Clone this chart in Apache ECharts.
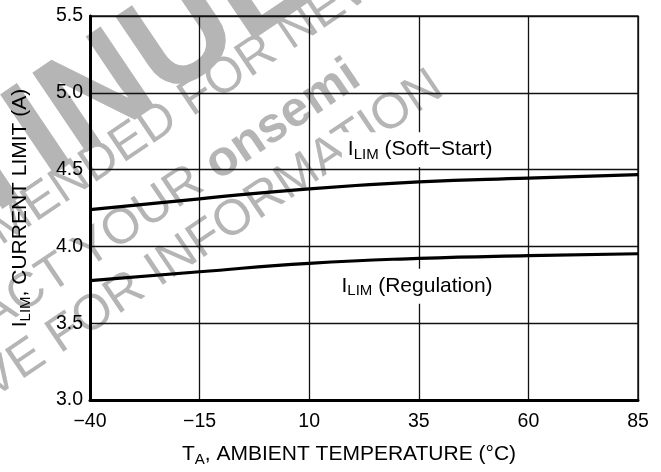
<!DOCTYPE html>
<html>
<head>
<meta charset="utf-8">
<script src="https://cdn.jsdelivr.net/npm/echarts@6/dist/echarts.min.js"></script>
<style>
html,body{margin:0;padding:0;background:#fff;}
#chart{width:661px;height:472px;}
</style>
</head>
<body>
<div id="chart"></div>
<script>
// ---- data ----
const temperatureC = [-40, -15, 10, 35, 60, 85];
const ilimSoftStart = [4.24, 4.31, 4.375, 4.42, 4.445, 4.467];
const ilimRegulation = [3.777, 3.835, 3.89, 3.922, 3.94, 3.952];
const xTicks = [-40, -15, 10, 35, 60, 85];
const yTicks = [3.0, 3.5, 4.0, 4.5, 5.0, 5.5];
const softLabelAt = [35.3, 4.63];
const regLabelAt = [34.6, 3.74];

const FONT = '"Liberation Sans", Arial, Helvetica, sans-serif';
const chart = echarts.init(document.getElementById('chart'));

// watermark helper
const mctx = document.createElement('canvas').getContext('2d');
function measure(str, font) { mctx.font = font; return mctx.measureText(str).width; }
const WM_ROT = 34 * Math.PI / 180;
const WM_COLOR = '#b5b5b5';
function wmText(full, anchorStr, ax, ay, size, weight) {
  const font = (weight || 'normal') + ' ' + size + 'px ' + FONT;
  const idx = full.indexOf(anchorStr);
  const pre = full.slice(0, idx);
  return {
    type: 'text', x: ax, y: ay, rotation: WM_ROT, z: -10, silent: true,
    style: {
      text: full, font: font, fill: WM_COLOR,
      x: -measure(pre, font), y: -0.35 * size,
      align: 'left', verticalAlign: 'middle',
      textAlign: 'left', textVerticalAlign: 'middle'
    }
  };
}
function wmPart(text, ax, ay, size, weight, align) {
  const font = (weight || 'normal') + ' ' + size + 'px ' + FONT;
  return {
    type: 'text', x: ax, y: ay, rotation: WM_ROT, z: -10, silent: true,
    style: {
      text: text, font: font, fill: WM_COLOR, x: 0, y: -0.35 * size,
      align: align, verticalAlign: 'middle', textAlign: align, textVerticalAlign: 'middle'
    }
  };
}

const watermark = [
  wmText('DISCONTINUED', 'INUED', 52, 188, 140, 'bold'),
  wmText('NOT RECOMMENDED FOR NEW DESIGN', 'FOR NEW', 194, 120, 50),
  wmPart('CONTACT YOUR ', 220, 184, 50, 'normal', 'right'),
  wmPart('onsemi', 220, 184, 50, 'bold', 'left'),
  wmText('REPRESENTATIVE FOR INFORMATION', 'FOR INFO', 62, 357, 50)
];

const fmtMinus = v => String(v).replace('-', '\u2212');

const richMain = { fontSize: 21, fontFamily: FONT, color: '#000' };
const richSub = { fontSize: 15, fontFamily: FONT, color: '#000', padding: [10, 0, 0, 0] };

function label(name, pos, sub, rest) {
  return {
    name: name,
    coord: pos,
    symbol: 'rect', symbolSize: 1,
    itemStyle: { color: 'rgba(0,0,0,0)' },
    label: {
      show: true, position: 'inside',
      formatter: '{a|I}{b|' + sub + '}{a| ' + rest + '}',
      backgroundColor: '#fff', padding: [5, 6, 5, 6],
      rich: { a: richMain, b: richSub }
    }
  };
}

const option = {
  animation: false,
  backgroundColor: '#fff',
  graphic: { elements: watermark },
  grid: { left: 90, right: 23, top: 16, bottom: 72, show: true, borderColor: '#222', borderWidth: 1.5, backgroundColor: 'transparent' },
  xAxis: {
    type: 'value', min: xTicks[0], max: xTicks[xTicks.length - 1], interval: 25,
    axisLine: { show: true, onZero: false, lineStyle: { color: '#000', width: 3 } },
    axisTick: { show: false },
    splitLine: { show: true, lineStyle: { color: '#111', width: 1.3 } },
    axisLabel: { color: '#000', fontSize: 19.5, fontFamily: FONT, margin: 12, formatter: fmtMinus },
    name: '{a|T}{b|A}{a|, AMBIENT TEMPERATURE (°C)}',
    nameLocation: 'middle', nameGap: 42,
    nameTextStyle: { rich: { a: richMain, b: richSub }, padding: [0, 30, 0, 0] }
  },
  yAxis: {
    type: 'value', min: yTicks[0], max: yTicks[yTicks.length - 1], interval: 0.5,
    axisLine: { show: true, onZero: false, lineStyle: { color: '#000', width: 3 } },
    axisTick: { show: false },
    splitLine: { show: true, lineStyle: { color: '#111', width: 1.3 } },
    axisLabel: { color: '#000', fontSize: 19.5, fontFamily: FONT, margin: 7, formatter: v => v.toFixed(1) },
    name: '{a|I}{b|LIM}{a|, CURRENT LIMIT (A)}',
    nameLocation: 'middle', nameGap: 57,
    nameTextStyle: { rich: { a: richMain, b: richSub } }
  },
  series: [
    {
      name: 'ILIM (Soft-Start)', type: 'line', smooth: true, symbol: 'none',
      data: temperatureC.map((t, i) => [t, ilimSoftStart[i]]),
      lineStyle: { color: '#000', width: 3.2 },
      markPoint: { silent: true, data: [label('soft', softLabelAt, 'LIM', '(Soft\u2212Start)')] }
    },
    {
      name: 'ILIM (Regulation)', type: 'line', smooth: true, symbol: 'none',
      data: temperatureC.map((t, i) => [t, ilimRegulation[i]]),
      lineStyle: { color: '#000', width: 3.2 },
      markPoint: { silent: true, data: [label('reg', regLabelAt, 'LIM', '(Regulation)')] }
    }
  ]
};
chart.setOption(option);
</script>
</body>
</html>
